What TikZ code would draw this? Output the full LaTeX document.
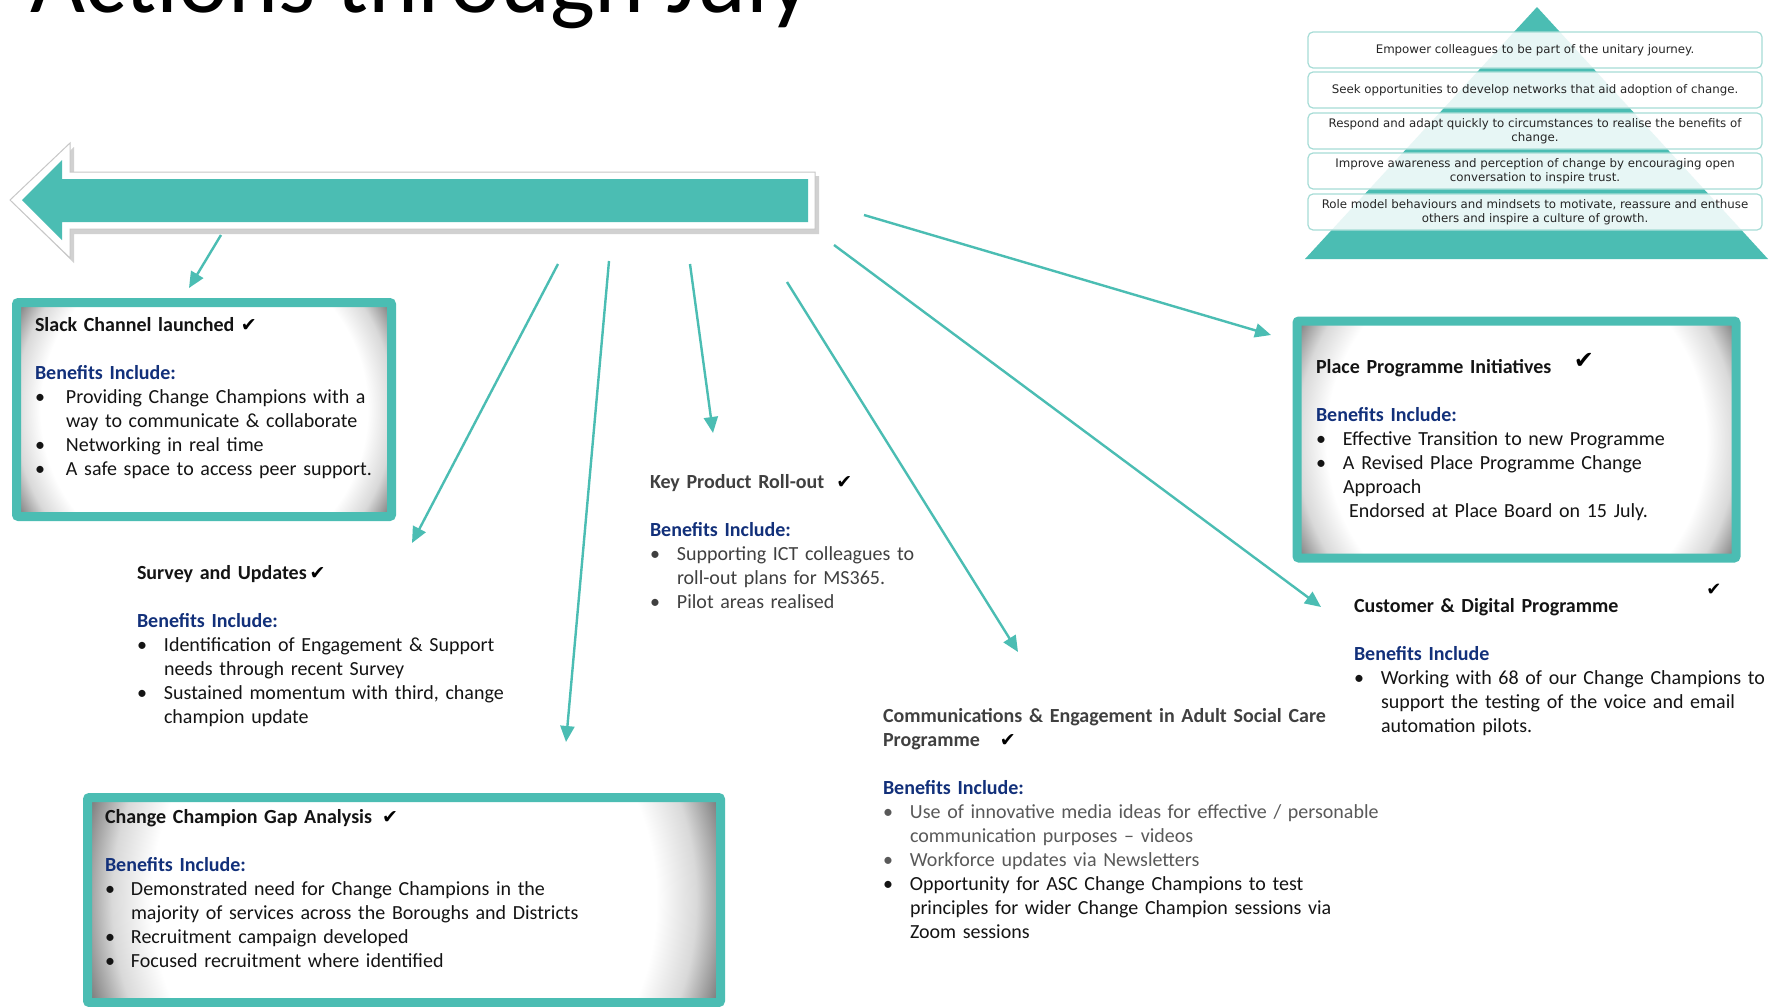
\documentclass[tikz,border=0pt]{standalone}
\usepackage{fontspec}
\setmainfont{Carlito}
\newfontfamily\symf{DejaVu Sans}
\newfontfamily\pyrf{DejaVu Sans}
\usetikzlibrary{arrows.meta}
\definecolor{teal1}{HTML}{4BBDB3}
\definecolor{navyb}{HTML}{12307A}
\definecolor{dgray}{HTML}{404040}
\definecolor{mgray}{HTML}{595959}
\definecolor{pborder}{HTML}{A6DCD6}
\pgfdeclareradialshading{vignette}{\pgfpoint{0bp}{0bp}}{color(0bp)=(white); color(19bp)=(white); color(22bp)=(black!15); color(25bp)=(black!55); color(50bp)=(black!55)}
\newcommand{\bitem}[2][27pt]{\par\noindent\hangindent=#1\hangafter=1\makebox[#1][l]{•}#2\par}
\newcommand{\ben}[1]{{\bfseries\color{navyb}#1}}
\newcommand{\ck}{{\color{black}\symf\fontsize{19}{19}\selectfont ✔}}
\begin{document}
\begin{tikzpicture}[x=1pt,y=-1pt,
  conn/.style={draw=teal1, line width=2.4pt, -{Triangle[length=16pt,width=14pt]}},
  vbox/.style={draw=teal1, line width=9pt, rounded corners=2pt, inner sep=0pt, outer sep=0pt,
    path picture={\shade[shading=vignette] ([shift={(-#1pt,-#1pt)}]path picture bounding box.center) rectangle ([shift={(#1pt,#1pt)}]path picture bounding box.center);}},
  txt/.style={anchor=base west, inner sep=0pt, outer sep=0pt, text width=620pt, align=left, text=black!92, font=\fontsize{20}{24}\selectfont},
  pbox/.style={draw=pborder, line width=1.2pt, fill=white, fill opacity=0.87, text opacity=1, rounded corners=5pt, minimum width=454pt, minimum height=36pt, inner sep=0pt, align=center, text=black!85, font=\pyrf\fontsize{11.8}{14.5}\selectfont}]
\useasboundingbox (0,0) rectangle (1781,1007);
\fill[white] (0,0) rectangle (1781,1007);
\clip (0,0) rectangle (1781,1007);

% title (cut at the top edge)
\node[anchor=base west, inner sep=0pt, font=\fontsize{95}{95}\selectfont] (title) at (30,12) {Actions through July};

% big block arrow
\fill[black, opacity=0.18] (14,204) -- (74,147) -- (74,176) -- (819,176) -- (819,234) -- (74,234) -- (74,263) -- cycle;
\filldraw[fill=white, draw=black!22, line width=1pt] (10,200) -- (70,143) -- (70,172) -- (815,172) -- (815,229) -- (70,229) -- (70,258) -- cycle;
\fill[teal1] (22,200) -- (62,160) -- (62,179) -- (808,179) -- (808,222) -- (62,222) -- (62,240) -- cycle;

% pyramid
\fill[teal1] (1537,7) -- (1768,259) -- (1305,259) -- cycle;
\node[pbox] (p1) at (1535,50) {Empower colleagues to be part of the unitary journey.};
\node[pbox] (p2) at (1535,90) {Seek opportunities to develop networks that aid adoption of change.};
\node[pbox] (p3) at (1535,131) {Respond and adapt quickly to circumstances to realise the benefits of\\ change.};
\node[pbox] (p4) at (1535,171) {Improve awareness and perception of change by encouraging open\\ conversation to inspire trust.};
\node[pbox] (p5) at (1535,212) {Role model behaviours and mindsets to motivate, reassure and enthuse\\ others and inspire a culture of growth.};

% boxes
\node[vbox=215, minimum width=375pt, minimum height=214pt] (slackbox) at (204,409.5) {};
\node[vbox=250, minimum width=439pt, minimum height=237pt] (placebox) at (1516.5,439.5) {};
\node[vbox=332, minimum width=633pt, minimum height=205pt] (gapbox) at (404,900) {};

% texts
\node[txt] (slack) at (35,331) {\textbf{Slack Channel launched} \ck\par\vskip24pt
 \ben{Benefits Include:}
 \bitem[31pt]{Providing Change Champions with a\newline way to communicate \& collaborate}
 \bitem[31pt]{Networking in real time}
 \bitem[31pt]{A safe space to access peer support.}};

\node[txt] (survey) at (137,579) {\textbf{Survey and Updates}\hspace{3pt}\ck\par\vskip24pt
 \ben{Benefits Include:}
 \bitem{Identification of Engagement \& Support\newline needs through recent Survey}
 \bitem{Sustained momentum with third, change\newline champion update}};

\node[txt, text=dgray] (keyprod) at (650,488) {\textbf{Key Product Roll-out}\hspace{12pt}\ck\par\vskip24pt
 \ben{Benefits Include:}
 \bitem{Supporting ICT colleagues to\newline roll-out plans for MS365.}
 \bitem{Pilot areas realised}};

\node[txt] (gap) at (105,823) {\textbf{Change Champion Gap Analysis}\hspace{10pt}\ck\par\vskip24pt
 \ben{Benefits Include:}
 \bitem[26pt]{Demonstrated need for Change Champions in the\newline majority of services across the Boroughs and Districts}
 \bitem[26pt]{Recruitment campaign developed}
 \bitem[26pt]{Focused recruitment where identified}};

\node[txt] (place) at (1316,373) {\textbf{Place Programme Initiatives}\par\vskip24pt
 \ben{Benefits Include:}
 \bitem{Effective Transition to new Programme}
 \bitem{A Revised Place Programme Change\newline Approach\newline\hspace*{6pt}Endorsed at Place Board on 15 July.}};
\node[inner sep=0pt, font=\symf\fontsize{24}{24}\selectfont] (placeck) at (1584,361) {✔};

\node[txt] (cust) at (1354,612) {\textbf{Customer \& Digital Programme}\par\vskip24pt
 \ben{Benefits Include}
 \bitem{Working with 68 of our Change Champions to\newline support the testing of the voice and email\newline automation pilots.}};
\node[inner sep=0pt, font=\symf\fontsize{18}{18}\selectfont] (custck) at (1714,590) {✔};

\node[txt] (comms) at (883,722) {{\color{dgray}\textbf{Communications \& Engagement in Adult Social Care}\newline\textbf{Programme}}\hspace{20pt}\ck\par\vskip24pt
 \ben{Benefits Include:}
 {\color{mgray}\bitem{Use of innovative media ideas for effective / personable\newline communication purposes – videos}
 \bitem{Workforce updates via Newsletters}}
 \bitem{Opportunity for ASC Change Champions to test\newline principles for wider Change Champion sessions via\newline Zoom sessions}};

% connectors
\coordinate (a1s) at (221,235); \coordinate (a1e) at (189,288);
\coordinate (a2s) at (558,264); \coordinate (a2e) at (412,543);
\coordinate (a3s) at (609,261); \coordinate (a3e) at (566,742);
\coordinate (a4s) at (690,264); \coordinate (a4e) at (713,433);
\coordinate (a5s) at (787,282); \coordinate (a5e) at (1018,652);
\coordinate (a6s) at (834,245); \coordinate (a6e) at (1321,607);
\coordinate (a7s) at (864,215); \coordinate (a7e) at (1271,335);
\draw[conn] (a1s) -- (a1e);
\draw[conn] (a2s) -- (a2e);
\draw[conn] (a3s) -- (a3e);
\draw[conn] (a4s) -- (a4e);
\draw[conn] (a5s) -- (a5e);
\draw[conn] (a6s) -- (a6e);
\draw[conn] (a7s) -- (a7e);
\end{tikzpicture}
\end{document}
